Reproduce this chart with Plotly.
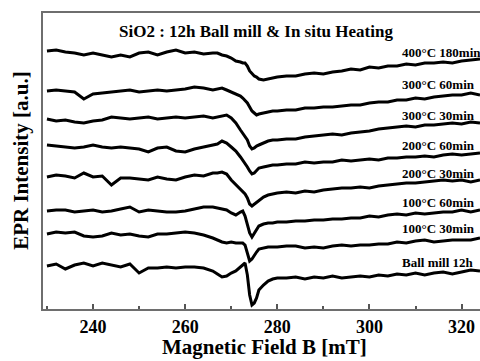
import plotly.graph_objects as go

# Magnetic field grid (mT)
field_mT = [230, 232, 234, 236, 238, 240, 242, 244, 246, 248, 250, 252, 254, 256, 258, 260, 262, 264, 266,
            267, 268, 269, 270, 271, 272, 272.5, 273, 273.5, 274, 274.5, 275, 275.5, 276, 277, 278, 279, 280,
            282, 284, 286, 288, 290, 292, 294, 296, 298, 300, 302, 304, 306, 308, 310, 312, 314, 316, 318, 320, 322, 324]

# Stacked EPR intensities (a.u.)
int_400C_180min = [258, 259, 257, 256, 254, 256, 254, 252, 254, 252, 256, 257, 254, 257, 259, 256, 257, 255, 256,
                   256, 254, 253, 251, 248, 247, 246, 246, 243, 238, 235, 233, 232, 230, 229, 230, 231, 232,
                   233, 233, 235, 236, 235, 237, 238, 240, 239, 242, 241, 243, 243, 245, 244, 246, 246, 247, 246, 248, 249, 250]
int_300C_60min = [218, 219, 218, 217, 210, 215, 216, 217, 218, 219, 217, 218, 219, 218, 219, 220, 222, 221, 219,
                  220, 221, 219, 217, 215, 213, 211, 209, 206, 202, 198, 196, 194, 195, 196, 197, 198, 198,
                  199, 199, 201, 201, 202, 202, 203, 204, 204, 206, 207, 207, 209, 209, 211, 210, 212, 213, 214, 214, 216, 214]
int_300C_30min = [190, 188, 189, 187, 186, 188, 189, 192, 191, 190, 191, 192, 190, 191, 192, 191, 192, 193, 191,
                  192, 193, 194, 191, 186, 179, 176, 172, 169, 163, 160, 161, 163, 164, 166, 168, 169, 169,
                  170, 170, 172, 173, 174, 175, 174, 176, 177, 178, 180, 181, 182, 183, 182, 184, 184, 185, 186, 185, 187, 186]
int_200C_60min = [164, 163, 162, 161, 162, 164, 162, 161, 162, 161, 160, 157, 161, 162, 158, 157, 160, 162, 164,
                  165, 168, 166, 162, 158, 152, 149, 146, 142, 138, 135, 136, 139, 141, 142, 143, 144, 144,
                  145, 145, 147, 146, 147, 147, 149, 148, 149, 150, 149, 151, 151, 152, 152, 153, 152, 154, 155, 154, 155, 156]
int_200C_30min = [132, 134, 133, 131, 136, 132, 133, 124, 131, 131, 130, 129, 132, 130, 129, 132, 134, 133, 136,
                  136, 137, 135, 129, 124, 119, 117, 115, 111, 105, 103, 105, 107, 109, 112, 114, 115, 116,
                  117, 116, 118, 117, 119, 120, 121, 121, 122, 121, 123, 124, 125, 126, 126, 127, 128, 129, 128, 129, 127, 129]
int_100C_60min = [98, 99, 99, 97, 98, 99, 97, 98, 100, 102, 97, 99, 98, 97, 97, 98, 100, 102, 102,
                  101, 100, 99, 96, 94, 97, 98, 93, 84, 76, 72, 76, 80, 83, 85, 86, 86, 87,
                  87, 88, 88, 89, 89, 90, 90, 91, 91, 93, 92, 94, 95, 94, 96, 95, 96, 97, 97, 99, 97, 99]
int_100C_30min = [75, 77, 76, 77, 73, 72, 73, 76, 74, 75, 73, 72, 75, 75, 76, 77, 76, 74, 71,
                  69, 67, 66, 67, 66, 66, 66, 64, 57, 48, 50, 54, 57, 60, 61, 62, 62, 62,
                  63, 63, 61, 62, 61, 63, 64, 63, 64, 64, 65, 65, 67, 66, 68, 69, 67, 68, 69, 69, 69, 71]
int_ballmill_12h = [43, 45, 40, 44, 46, 43, 46, 44, 42, 45, 36, 41, 41, 42, 41, 42, 42, 41, 38,
                    35, 32, 33, 36, 38, 42, 44, 46, 34, 14, 4, 6, 11, 19, 24, 28, 30, 31,
                    31, 32, 30, 32, 31, 33, 31, 32, 33, 32, 34, 33, 35, 34, 36, 34, 36, 37, 35, 37, 39, 38]

series = [int_400C_180min, int_300C_60min, int_300C_30min, int_200C_60min,
          int_200C_30min, int_100C_60min, int_100C_30min, int_ballmill_12h]
labels = ["400°C 180min", "300°C 60min", "300°C 30min", "200°C 60min",
          "200°C 30min", "100°C 60min", "100°C 30min", "Ball mill 12h"]
label_levels = [257, 225, 194, 164, 136, 107, 81, 47]

x_ticks = [240, 260, 280, 300, 320]

FONT = "Liberation Serif"

fig = go.Figure()
for name, ys in zip(labels, series):
    fig.add_trace(go.Scatter(x=field_mT, y=ys, mode="lines", name=name,
                             line=dict(color="black", width=3), showlegend=False))

annotations = []
for name, lvl in zip(labels, label_levels):
    annotations.append(dict(x=306.6, y=lvl, xref="x", yref="y", text=name, showarrow=False,
                            xanchor="left", yanchor="middle",
                            font=dict(family=FONT, size=13, color="black", weight=700)))
annotations.append(dict(x=275.4, y=278, xref="x", yref="y",
                        text="SiO2 : 12h Ball mill & In situ Heating", showarrow=False,
                        xanchor="center", yanchor="middle",
                        font=dict(family=FONT, size=17, color="black", weight=700)))
annotations.append(dict(x=-0.051, y=0.503, xref="paper", yref="paper",
                        text="EPR Intensity [a.u.]", showarrow=False, textangle=-90,
                        xanchor="center", yanchor="middle",
                        font=dict(family=FONT, size=21, color="black", weight=700)))
annotations.append(dict(x=0.508, y=-0.127, xref="paper", yref="paper",
                        text="Magnetic Field B [mT]", showarrow=False,
                        xanchor="center", yanchor="middle",
                        font=dict(family=FONT, size=21, color="black", weight=700)))

fig.update_layout(
    width=480, height=361,
    margin=dict(l=43, r=0, t=13, b=52),
    paper_bgcolor="white", plot_bgcolor="white",
    annotations=annotations,
    xaxis=dict(range=[229.14, 324.0], tickvals=x_ticks, ticktext=[str(t) for t in x_ticks],
               ticks="inside", ticklen=5, tickwidth=1.5, tickcolor="#555",
               minor=dict(dtick=10, tick0=230, ticks="inside", ticklen=3, tickcolor="#555"),
               showline=True, linecolor="#6e6e6e", linewidth=2, mirror=True,
               showgrid=False, zeroline=False,
               tickfont=dict(family=FONT, size=18, color="black", weight=700),
               ticklabelstandoff=0),
    yaxis=dict(range=[0, 296], showticklabels=False, ticks="",
               showline=True, linecolor="#6e6e6e", linewidth=2,
               showgrid=False, zeroline=False),
)

fig.write_html("out.html", config={"displayModeBar": False},
               post_script="document.documentElement.style.margin='0';document.body.style.margin='0';document.body.style.overflow='hidden';")
